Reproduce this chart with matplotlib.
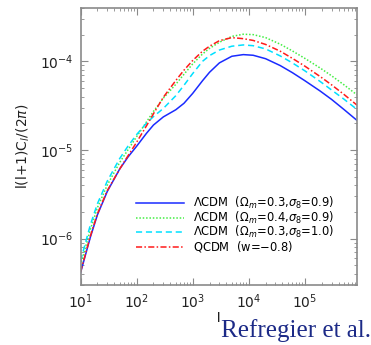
import matplotlib
matplotlib.use('Agg')
import matplotlib.pyplot as plt

# multipole values shared by all curves
ell = [10, 15, 20, 30, 50, 70, 100, 150, 200, 300, 500, 700, 1000, 1500, 2000,
       3000, 5000, 8000, 12000, 20000, 36500, 60000, 100000, 188000, 300000,
       500000, 850000]

# l(l+1)C_l/(2pi)
lcdm_03_09 = [4.1e-7, 1.04e-6, 1.85e-6, 3.4e-6, 6.1e-6, 8.3e-6, 1.1e-5, 1.54e-5,
              1.91e-5, 2.36e-5, 2.84e-5, 3.36e-5, 4.34e-5, 6.04e-5, 7.52e-5, 9.6e-5,
              1.14e-4, 1.19e-4, 1.17e-4, 1.07e-4, 8.95e-5, 7.45e-5, 6.05e-5, 4.62e-5,
              3.72e-5, 2.86e-5, 2.16e-5]
lcdm_04_09 = [5.0e-7, 1.27e-6, 2.23e-6, 4.02e-6, 7.23e-6, 1.0e-5, 1.41e-5, 2.07e-5,
              2.72e-5, 3.84e-5, 5.5e-5, 7.14e-5, 9.33e-5, 1.21e-4, 1.4e-4, 1.64e-4,
              1.91e-4, 2.02e-4, 2.0e-4, 1.85e-4, 1.56e-4, 1.31e-4, 1.08e-4, 8.4e-5,
              6.87e-5, 5.43e-5, 4.19e-5]
lcdm_03_10 = [5.6e-7, 1.43e-6, 2.47e-6, 4.45e-6, 8.0e-6, 1.1e-5, 1.49e-5, 2.0e-5,
              2.38e-5, 2.94e-5, 4.09e-5, 5.36e-5, 7.26e-5, 1.0e-4, 1.16e-4, 1.34e-4,
              1.48e-4, 1.53e-4, 1.5e-4, 1.38e-4, 1.15e-4, 9.6e-5, 7.82e-5, 5.92e-5,
              4.75e-5, 3.74e-5, 2.87e-5]
qcdm = [4.2e-7, 1.07e-6, 1.9e-6, 3.48e-6, 6.1e-6, 8.55e-6, 1.22e-5, 1.87e-5,
        2.56e-5, 3.93e-5, 6.07e-5, 7.94e-5, 1.02e-4, 1.3e-4, 1.48e-4, 1.71e-4,
        1.85e-4, 1.8e-4, 1.72e-4, 1.55e-4, 1.3e-4, 1.08e-4, 8.83e-5, 6.73e-5,
        5.43e-5, 4.23e-5, 3.21e-5]

labels = [r'$\Lambda$CDM  ($\Omega_m$=0.3,$\sigma_8$=0.9)',
          r'$\Lambda$CDM  ($\Omega_m$=0.4,$\sigma_8$=0.9)',
          r'$\Lambda$CDM  ($\Omega_m$=0.3,$\sigma_8$=1.0)',
          'QCDM  (w=$-$0.8)']

fig = plt.figure(figsize=(3.71, 3.45), dpi=100)
ax = fig.add_axes([0.217, 0.174, 0.745, 0.803])

ax.plot(ell, lcdm_03_09, color='#1a2bff', lw=1.1, ls='-', label=labels[0])
ax.plot(ell, lcdm_04_09, color='#44ee44', lw=1.1, ls=(0, (1, 1.2)), label=labels[1])
ax.plot(ell, lcdm_03_10, color='#00e0ff', lw=1.1, ls=(0, (4, 2.5)), label=labels[2])
ax.plot(ell, qcdm, color='#ff1a1a', lw=1.1, ls=(0, (4, 1.5, 1, 1.5)), label=labels[3])

ax.set_xscale('log')
ax.set_yscale('log')
ax.set_xlim(10, 8.5e5)
ax.set_ylim(3e-7, 4e-4)

for s in ax.spines.values():
    s.set_color('#8a8a8a')
    s.set_linewidth(1.2)
ax.tick_params(which='both', direction='in', top=True, right=True, color='#8a8a8a',
               labelcolor='#222222', labelsize=10)
ax.tick_params(which='major', length=5, pad=5)
ax.tick_params(which='minor', length=2.5)

ax.set_xlabel('l', fontsize=9, labelpad=1)
ax.set_ylabel(r'l(l+1)C$_l$/(2$\pi$)', fontsize=10, color='#222222', labelpad=6)

ax.legend(loc='upper left', bbox_to_anchor=(0.2, 0.325), frameon=False,
          fontsize=8.3, handlelength=4.2, handletextpad=0.8, labelspacing=-0.12,
          borderpad=0, borderaxespad=0)

fig.text(0.999, 0.01, 'Refregier et al.', ha='right', va='bottom',
         family='Liberation Serif', fontsize=18, color='#1c2a87')

fig.savefig('out.png', dpi=100)
